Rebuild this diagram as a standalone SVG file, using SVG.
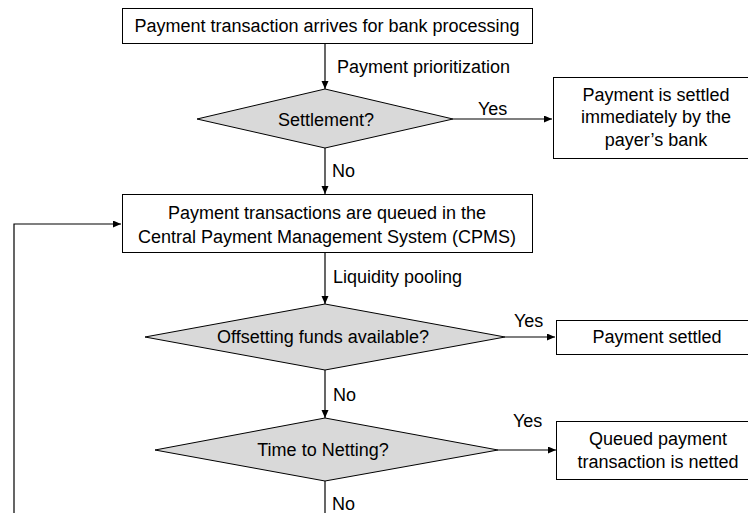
<svg xmlns="http://www.w3.org/2000/svg" width="748" height="513" viewBox="0 0 748 513">
<style>
text{font-family:"Liberation Sans",Arial,sans-serif;font-size:18px;fill:#000}
.c{text-anchor:middle}
.box{fill:#fff;stroke:#000;stroke-width:1}
.dia{fill:#d9d9d9;stroke:#000;stroke-width:1}
.ln{fill:none;stroke:#000;stroke-width:1.2}
</style>
<defs>
<marker id="ah" markerWidth="9" markerHeight="8" refX="8" refY="3.5" orient="auto" markerUnits="userSpaceOnUse">
<path d="M0,0 L8,3.5 L0,7 z" fill="#000"/>
</marker>
</defs>
<rect width="748" height="513" fill="#fff"/>
<g id="connectors">
<line class="ln" x1="325" y1="44" x2="325" y2="89" marker-end="url(#ah)"/>
<line class="ln" x1="453" y1="119" x2="552" y2="119" marker-end="url(#ah)"/>
<line class="ln" x1="325" y1="148" x2="325" y2="194" marker-end="url(#ah)"/>
<line class="ln" x1="325" y1="253" x2="325" y2="304" marker-end="url(#ah)"/>
<line class="ln" x1="505" y1="337" x2="555" y2="337" marker-end="url(#ah)"/>
<line class="ln" x1="325" y1="370" x2="325" y2="418" marker-end="url(#ah)"/>
<line class="ln" x1="498" y1="450" x2="556" y2="450" marker-end="url(#ah)"/>
<line class="ln" x1="325" y1="481" x2="325" y2="513"/>
<polyline class="ln" points="14,513 14,224 121,224" marker-end="url(#ah)"/>
<text x="337" y="73">Payment prioritization</text>
<text x="478" y="115">Yes</text>
<text x="332" y="177">No</text>
<text x="333" y="283">Liquidity pooling</text>
<text x="514" y="327">Yes</text>
<text x="333" y="401">No</text>
<text x="513" y="427">Yes</text>
<text x="332" y="510">No</text>
</g>
<g id="n-start">
<rect class="box" x="122.5" y="8.5" width="410" height="35"/>
<text class="c" x="327" y="32">Payment transaction arrives for bank processing</text>
</g>
<g id="n-settlement">
<polygon class="dia" points="325,89 453,119 325,148 197,119"/>
<text class="c" x="326" y="126">Settlement?</text>
</g>
<g id="n-settled-immediately">
<rect class="box" x="553.5" y="77.5" width="210" height="81"/>
<text class="c" x="656" y="101">Payment is settled</text>
<text class="c" x="656" y="123">immediately by the</text>
<text class="c" x="656" y="146">payer’s bank</text>
</g>
<g id="n-queue">
<rect class="box" x="122.5" y="194.5" width="410" height="58"/>
<text class="c" x="327" y="219">Payment transactions are queued in the</text>
<text class="c" x="327" y="243">Central Payment Management System (CPMS)</text>
</g>
<g id="n-offsetting">
<polygon class="dia" points="325,304 505,337 325,370 145,337"/>
<text class="c" x="323" y="343">Offsetting funds available?</text>
</g>
<g id="n-payment-settled">
<rect class="box" x="556.5" y="320.5" width="210" height="34"/>
<text class="c" x="657" y="343">Payment settled</text>
</g>
<g id="n-netting">
<polygon class="dia" points="325,418 498,450 325,481 155,450"/>
<text class="c" x="323" y="456">Time to Netting?</text>
</g>
<g id="n-netted">
<rect class="box" x="556.5" y="421.5" width="210" height="58"/>
<text class="c" x="658" y="445">Queued payment</text>
<text class="c" x="658" y="468">transaction is netted</text>
</g>
</svg>
